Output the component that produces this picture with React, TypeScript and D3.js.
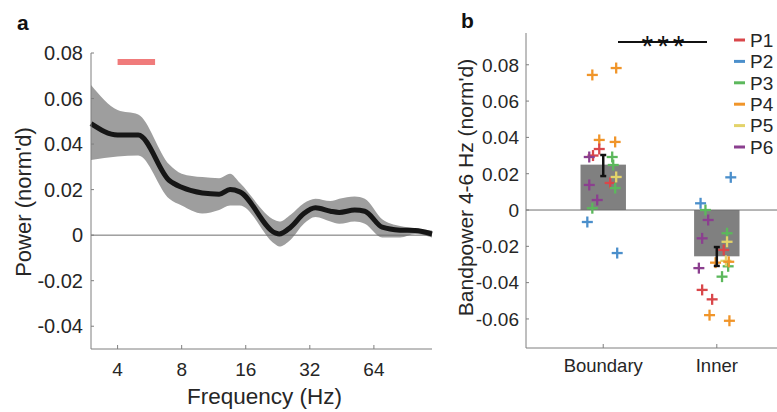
import React from "react";
import * as d3 from "d3";

// ---------- Panel a data ----------
const freqs = [3, 4, 5, 7, 8, 10, 12, 13.5, 15, 22, 23, 26, 30, 34, 40, 44, 52, 58, 70, 85, 100, 120];
const meanPower = [0.049, 0.044, 0.044, 0.024, 0.021, 0.0185, 0.018, 0.02, 0.019, 0.001, 0.0005, 0.0035, 0.0095, 0.012, 0.0105, 0.01, 0.011, 0.0105, 0.0035, 0.0022, 0.002, 0.0005];
const upperPower = [0.066, 0.055, 0.053, 0.031, 0.027, 0.0255, 0.025, 0.027, 0.023, 0.0065, 0.006, 0.009, 0.014, 0.016, 0.015, 0.016, 0.017, 0.016, 0.007, 0.004, 0.003, 0.002];
const lowerPower = [0.033, 0.0345, 0.035, 0.016, 0.013, 0.0095, 0.011, 0.013, 0.013, -0.004, -0.005, -0.002, 0.005, 0.008, 0.006, 0.005, 0.006, 0.005, -0.001, -0.001, 0.0005, -0.001];
const freqTicks = [4, 8, 16, 32, 64];
const powerTicks = [-0.04, -0.02, 0, 0.02, 0.04, 0.06, 0.08];
const sigBand = [4, 6];
const sigLevel = 0.076;

// ---------- Panel b data ----------
const conditions = ["Boundary", "Inner"];
const barMeans = [0.025, -0.0255];
const errLow = [0.0187, -0.0308];
const errHigh = [0.0303, -0.0204];
const bandTicks = [-0.06, -0.04, -0.02, 0, 0.02, 0.04, 0.06, 0.08];
const participants = ["P1", "P2", "P3", "P4", "P5", "P6"];
const pColors = ["#d9474a", "#4b8fcb", "#5cb85c", "#f0952a", "#e3d36a", "#8b3f8f"];
// points: condition index, participant index, jitter, value
const ptCond = [0,0,0,0, 0,0,0, 0,0,0, 0,0,0,0, 0, 0,0,
  1,1, 1,1,1,1, 1,1,1, 1,1, 1,1,1, 1,1,1,1];
const ptPart = [3,3,3,3, 0,0,0, 5,5,5, 2,2,2,2, 4, 1,1,
  1,1, 2,2,2,2, 5,5,5, 4,4, 0,0,0, 3,3,3,3];
const ptJitter = [-0.096,0.114,-0.035,0.105, -0.035,0.061,-0.09, -0.123,-0.123,-0.053, 0.079,0.088,0.105,-0.096, 0.114, -0.14,0.123,
  -0.143,0.123, -0.1,0.09,0.046,0.1, -0.076,-0.129,-0.158, 0.09,0.08, 0.061,-0.129,-0.041, -0.011,0.105,-0.064,0.111];
const ptValue = [0.0744,0.0782,0.0386,0.0375, 0.0336,0.0149,0.03, 0.0292,0.0138,0.0055, 0.0292,0.0248,0.0121,0.001, 0.0182, -0.0066,-0.0237,
  0.0037,0.018, 0.0,-0.0128,-0.0367,-0.031, -0.0055,-0.0156,-0.032, -0.0175,-0.028, -0.022,-0.044,-0.0492, -0.029,-0.0285,-0.0579,-0.061];

const FONT = "'Liberation Sans', Arial, sans-serif";
const TXT = "#262626";
const AX = "#7f7f7f";

export default function App() {
  // Panel a scales
  const xA = d3.scaleLog().base(2).domain([3, 120]).range([91, 432]);
  const yA = d3.scaleLinear().domain([-0.05, 0.08]).range([349, 53]);
  const idx = freqs.map((_, i) => i);
  const area = d3.area<number>()
    .x((i) => xA(freqs[i]))
    .y0((i) => yA(lowerPower[i]))
    .y1((i) => yA(upperPower[i]))
    .curve(d3.curveMonotoneX);
  const line = d3.line<number>()
    .x((i) => xA(freqs[i]))
    .y((i) => yA(meanPower[i]))
    .curve(d3.curveMonotoneX);

  // Panel b scales
  const xB = d3.scaleLinear().domain([0.32, 2.53]).range([526, 777]);
  const yB = d3.scaleLinear().domain([-0.076, 0.0975]).range([348, 33]);
  const barW = xB(1.4) - xB(1.0);
  const cs = 5.5;

  return (
    <svg width={777} height={412} style={{ position: "absolute", left: 0, top: 0, background: "#fff" }} fontFamily={FONT}>
      <rect x={0} y={0} width={777} height={412} fill="#fff" />
      {/* ---------------- Panel a ---------------- */}
      <text x={17} y={30} fontSize={21} fontWeight="bold" fill="#111">a</text>
      <path d={area(idx) || ""} fill="#9e9e9e" />
      <line x1={xA.range()[0]} x2={xA.range()[1]} y1={yA(0)} y2={yA(0)} stroke="#6e6e6e" strokeWidth={1} />
      <path d={line(idx) || ""} fill="none" stroke="#161616" strokeWidth={5} />
      <line x1={xA(sigBand[0])} x2={xA(sigBand[1])} y1={yA(sigLevel)} y2={yA(sigLevel)} stroke="#f07b7b" strokeWidth={6} />
      {/* axes */}
      <line x1={91} x2={91} y1={yA(0.08)} y2={yA(-0.05)} stroke={AX} />
      <line x1={91} x2={432} y1={yA(-0.05)} y2={yA(-0.05)} stroke={AX} />
      {powerTicks.map((t) => (
        <g key={"ya" + t}>
          <line x1={91} x2={94} y1={yA(t)} y2={yA(t)} stroke={AX} />
          <text x={83} y={yA(t)} dy="0.36em" textAnchor="end" fontSize={20} fill={TXT}>
            {t === 0 ? "0" : d3.format(".2f")(t).replace("−", "-")}
          </text>
        </g>
      ))}
      {freqTicks.map((t) => (
        <g key={"xa" + t}>
          <line x1={xA(t)} x2={xA(t)} y1={349} y2={345} stroke={AX} />
          <text x={xA(t)} y={376} textAnchor="middle" fontSize={19} fill={TXT}>{t}</text>
        </g>
      ))}
      <text x={(91 + 432) / 2 + 3} y={404} textAnchor="middle" fontSize={22.5} fill={TXT}>Frequency (Hz)</text>
      <text transform={`translate(31, ${202}) rotate(-90)`} textAnchor="middle" fontSize={22} fill={TXT}>Power (norm'd)</text>

      {/* ---------------- Panel b ---------------- */}
      <text x={461} y={28} fontSize={21} fontWeight="bold" fill="#111">b</text>
      {conditions.map((c, i) => (
        <rect key={"bar" + c} x={xB(i + 1) - barW / 2} width={barW}
          y={Math.min(yB(0), yB(barMeans[i]))} height={Math.abs(yB(barMeans[i]) - yB(0))} fill="#808080" />
      ))}
      <line x1={526} x2={777} y1={yB(0)} y2={yB(0)} stroke="#6e6e6e" strokeWidth={1} />
      {ptValue.map((v, k) => {
        const cx = xB(ptCond[k] + 1 + ptJitter[k]);
        const cy = yB(v);
        const col = pColors[ptPart[k]];
        return (
          <g key={"pt" + k} stroke={col} strokeWidth={2.3}>
            <line x1={cx - cs} x2={cx + cs} y1={cy} y2={cy} />
            <line x1={cx} x2={cx} y1={cy - cs} y2={cy + cs} />
          </g>
        );
      })}
      {conditions.map((c, i) => {
        const cx = xB(i + 1);
        return (
          <g key={"err" + c} stroke="#111" strokeWidth={2.5}>
            <line x1={cx} x2={cx} y1={yB(errLow[i])} y2={yB(errHigh[i])} />
            <line x1={cx - 3} x2={cx + 3} y1={yB(errLow[i])} y2={yB(errLow[i])} />
            <line x1={cx - 3} x2={cx + 3} y1={yB(errHigh[i])} y2={yB(errHigh[i])} />
          </g>
        );
      })}
      {/* axes */}
      <line x1={526} x2={526} y1={33} y2={348} stroke={AX} />
      <line x1={526} x2={777} y1={348} y2={348} stroke={AX} />
      {bandTicks.map((t) => (
        <g key={"yb" + t}>
          <line x1={526} x2={529} y1={yB(t)} y2={yB(t)} stroke={AX} />
          <text x={519} y={yB(t)} dy="0.36em" textAnchor="end" fontSize={19} fill={TXT}>
            {t === 0 ? "0" : d3.format(".2f")(t).replace("−", "-")}
          </text>
        </g>
      ))}
      {conditions.map((c, i) => (
        <g key={"xb" + c}>
          <line x1={xB(i + 1)} x2={xB(i + 1)} y1={348} y2={344} stroke={AX} />
          <text x={xB(i + 1)} y={372} textAnchor="middle" fontSize={18.5} fill={TXT}>{c}</text>
        </g>
      ))}
      <text transform={`translate(473, 187.5) rotate(-90)`} textAnchor="middle" fontSize={21} fill={TXT}>Bandpower 4-6 Hz (norm'd)</text>
      {/* significance */}
      <line x1={618} x2={707} y1={42} y2={42} stroke="#111" strokeWidth={2} />
      <text x={665} y={56} textAnchor="middle" fontSize={30} fill="#111" letterSpacing={4}>***</text>
      {/* legend */}
      {participants.map((p, i) => {
        const y = 40 + i * 21.4;
        return (
          <g key={"lg" + p}>
            <line x1={734} x2={745} y1={y} y2={y} stroke={pColors[i]} strokeWidth={3} />
            <text x={750} y={y} dy="0.36em" fontSize={19} fill={TXT}>{p}</text>
          </g>
        );
      })}
    </svg>
  );
}
